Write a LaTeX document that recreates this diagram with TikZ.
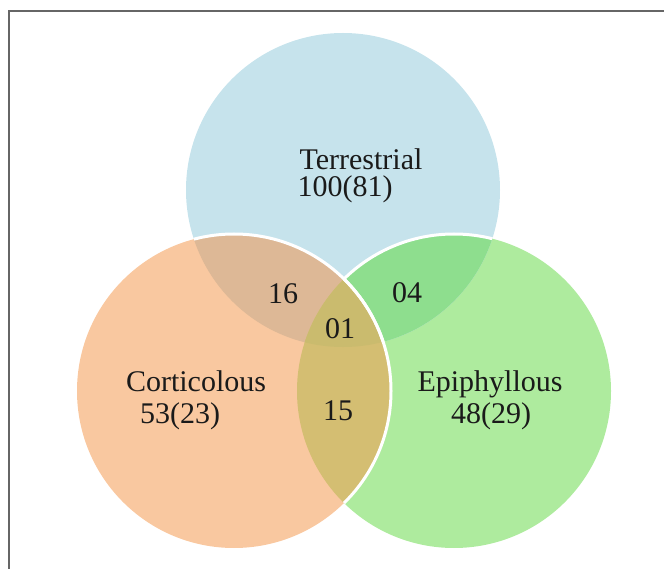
\documentclass[tikz,border=0pt]{standalone}
\usepackage{fontspec}
\setmainfont{Liberation Serif}
\definecolor{cBlue}{HTML}{C6E3EC}
\definecolor{cGreen}{HTML}{AEEB9E}
\definecolor{cOrange}{HTML}{F9C8A0}
\definecolor{cBO}{HTML}{DDB896}
\definecolor{cBG}{HTML}{8EDE8E}
\definecolor{cOG}{HTML}{D4BE72}
\definecolor{cAll}{HTML}{CABB6E}
\definecolor{cFrame}{HTML}{666666}
\definecolor{cText}{HTML}{1A1A1A}
\begin{document}
\begin{tikzpicture}[x=1pt,y=-1pt,
  lbl/.style={font=\fontsize{30}{34}\selectfont, text=cText, inner sep=0pt, anchor=base},
  rim/.style={draw=white, line width=3pt}]
\useasboundingbox (0,0) rectangle (664,569);
\def\rr{157}
\coordinate (T) at (343,190);
\coordinate (C) at (234,391);
\coordinate (E) at (454,391);
% frame
\begin{scope}
\clip (0,0) rectangle (664,569);
\draw[cFrame, line width=1.5pt] (9,11) rectangle (680,590);
\end{scope}
% base circles
\fill[cGreen] (E) circle (\rr);
\fill[cBlue] (T) circle (\rr);
\begin{scope}
\clip (T) circle (\rr);
\fill[cBG] (E) circle (\rr);
\draw[rim] (E) circle (\rr);
\end{scope}
\fill[cOrange] (C) circle (\rr);
\begin{scope}
\clip (T) circle (\rr);
\fill[cBO] (C) circle (\rr);
\end{scope}
\begin{scope}
\clip (E) circle (\rr);
\fill[cOG] (C) circle (\rr);
\end{scope}
\begin{scope}
\clip (E) circle (\rr);
\clip (T) circle (\rr);
\fill[cAll] (C) circle (\rr);
\end{scope}
\begin{scope}
\clip (T) circle (\rr);
\draw[rim] (C) circle (\rr);
\end{scope}
\begin{scope}
\clip (E) circle (\rr);
\draw[rim] (C) circle (\rr);
\end{scope}
% labels
\node[lbl, align=center, font=\fontsize{30}{27.5}\selectfont] (tname) at (345,197)
  {\hspace*{32pt}Terrestrial\\100(81)};
\node[lbl] (cname) at (196,391) {Corticolous};
\node[lbl] (cnum) at (180,423) {53(23)};
\node[lbl] (ename) at (490,391) {Epiphyllous};
\node[lbl] (enum) at (491,423) {48(29)};
\node[lbl] (tc) at (283,304) {16};
\node[lbl] (te) at (407,303) {04};
\node[lbl] (all) at (340,338) {01};
\node[lbl] (ce) at (338,420) {15};
\end{tikzpicture}
\end{document}
